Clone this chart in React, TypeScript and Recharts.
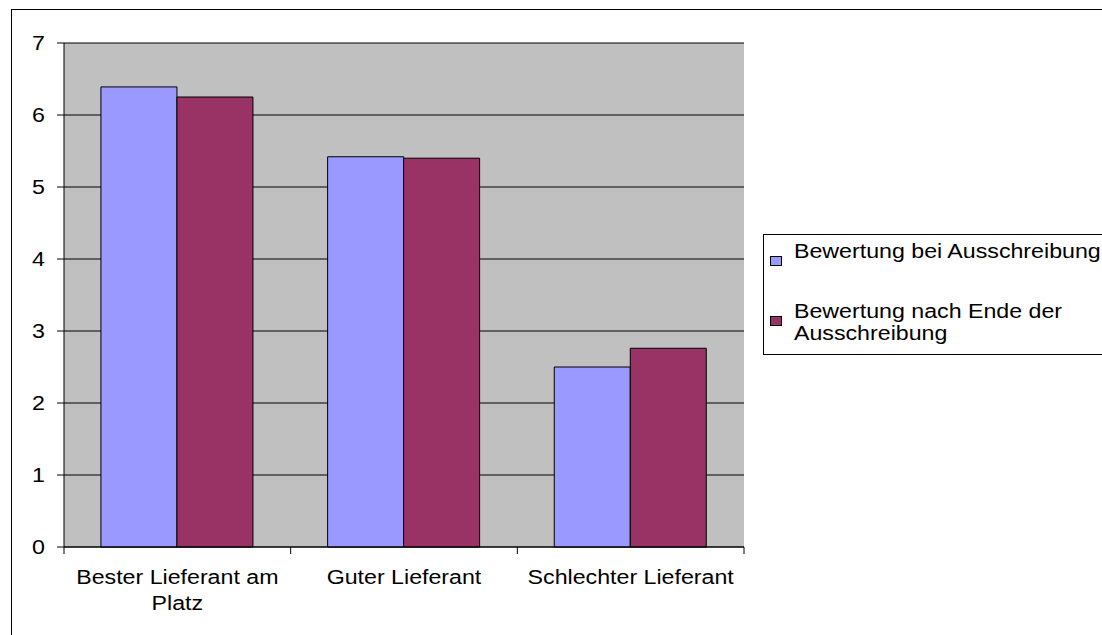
import React from 'react';
import { BarChart, Bar, XAxis, YAxis, CartesianGrid, Legend } from 'recharts';

const categories = ['Bester Lieferant am Platz', 'Guter Lieferant', 'Schlechter Lieferant'];
const labelLines = [['Bester Lieferant am', 'Platz'], ['Guter Lieferant'], ['Schlechter Lieferant']];
const beiAusschreibung = [6.39, 5.42, 2.5];
const nachEnde = [6.25, 5.4, 2.76];
const seriesNames = ['Bewertung bei Ausschreibung', 'Bewertung nach Ende der Ausschreibung'];
const yTicks = [0, 1, 2, 3, 4, 5, 6, 7];

const data = categories.map((c, i) => ({
  name: c,
  a: beiAusschreibung[i],
  b: nachEnde[i]
}));

const FONT = '"Liberation Sans", Arial, sans-serif';
const SX = 1.16;

const XTick = (props: any) => {
  const { x, y, payload, index } = props;
  const half = payload && payload.offset ? payload.offset : 680 / 6;
  const lines = labelLines[index] || [payload.value];
  return (
    <g>
      {index === 0 && <line x1={x - half} x2={x - half} y1={y} y2={y + 7} stroke="#000" />}
      <line x1={x + half} x2={x + half} y1={y} y2={y + 7} stroke="#000" />
      <g transform={`translate(${x},${y}) scale(${SX},1)`}>
        {lines.map((l: string, i: number) => (
          <text key={i} x={0} y={37 + i * 26} textAnchor="middle" fontSize={20} fontFamily={FONT} fill="#000">
            {l}
          </text>
        ))}
      </g>
    </g>
  );
};

const YTick = (props: any) => {
  const { x, y, payload } = props;
  return (
    <g transform={`translate(${x - 10},${y + 7}) scale(${SX},1)`}>
      <text x={0} y={0} textAnchor="end" fontSize={20} fontFamily={FONT} fill="#000">
        {payload.value}
      </text>
    </g>
  );
};

const wrap = (s: string, max: number) => {
  const out: string[] = [];
  let cur = '';
  s.split(' ').forEach(w => {
    const next = cur ? cur + ' ' + w : w;
    if (next.length > max && cur) {
      out.push(cur);
      cur = w;
    } else cur = next;
  });
  if (cur) out.push(cur);
  return out;
};

const LegendBox = (props: any) => {
  const items = props.payload || [];
  return (
    <svg width={340} height={122} style={{ display: 'block', overflow: 'visible' }}>
      <rect x={0.5} y={0.5} width={400} height={120} fill="#fff" stroke="#000" />
      {items.map((it: any, i: number) => {
        const lines = wrap(String(it.value), 27);
        const base = 24 + i * 60;
        return (
          <g key={i}>
            <rect x={7.5} y={base - 1.5} width={11} height={9} fill={it.color} stroke="#000" />
            <g transform={`translate(31,${base}) scale(${SX},1)`}>
              {lines.map((l, j) => (
                <text key={j} x={0} y={j * 22} fontSize={20} fontFamily={FONT} fill="#000">
                  {l}
                </text>
              ))}
            </g>
          </g>
        );
      })}
    </svg>
  );
};

export default function App() {
  return (
    <div style={{ position: 'absolute', left: 0, top: 0, width: 1102, height: 635, overflow: 'hidden', background: '#fff' }}>
      <div style={{ position: 'absolute', left: 11, top: 9, width: 1200, height: 700, border: '1px solid #000' }} />
      <BarChart
        width={1102}
        height={635}
        data={data}
        margin={{ top: 43, left: 14, right: 18, bottom: 28 }}
        barCategoryGap="16.3%"
        barGap={0}
        style={{ position: 'absolute', left: 0, top: 0 }}
      >
        <CartesianGrid vertical={false} stroke="#000" fill="#C0C0C0" fillOpacity={1} />
        <XAxis
          dataKey="name"
          height={60}
          axisLine={{ stroke: '#000' }}
          tickLine={false}
          tickSize={0}
          tickMargin={0}
          interval={0}
          tick={<XTick />}
        />
        <YAxis
          width={50}
          domain={[0, 7]}
          ticks={yTicks}
          interval={0}
          axisLine={{ stroke: '#000' }}
          tickLine={{ stroke: '#000' }}
          tickSize={7}
          tick={<YTick />}
        />
        <Legend
          layout="vertical"
          align="right"
          verticalAlign="middle"
          content={<LegendBox />}
          wrapperStyle={{ position: 'absolute', left: 763, top: 234, width: 340, height: 122 }}
        />
        <Bar dataKey="a" name={seriesNames[0]} fill="#9999FF" stroke="#000" strokeWidth={1} isAnimationActive={false} />
        <Bar dataKey="b" name={seriesNames[1]} fill="#993366" stroke="#000" strokeWidth={1} isAnimationActive={false} />
      </BarChart>
    </div>
  );
}
